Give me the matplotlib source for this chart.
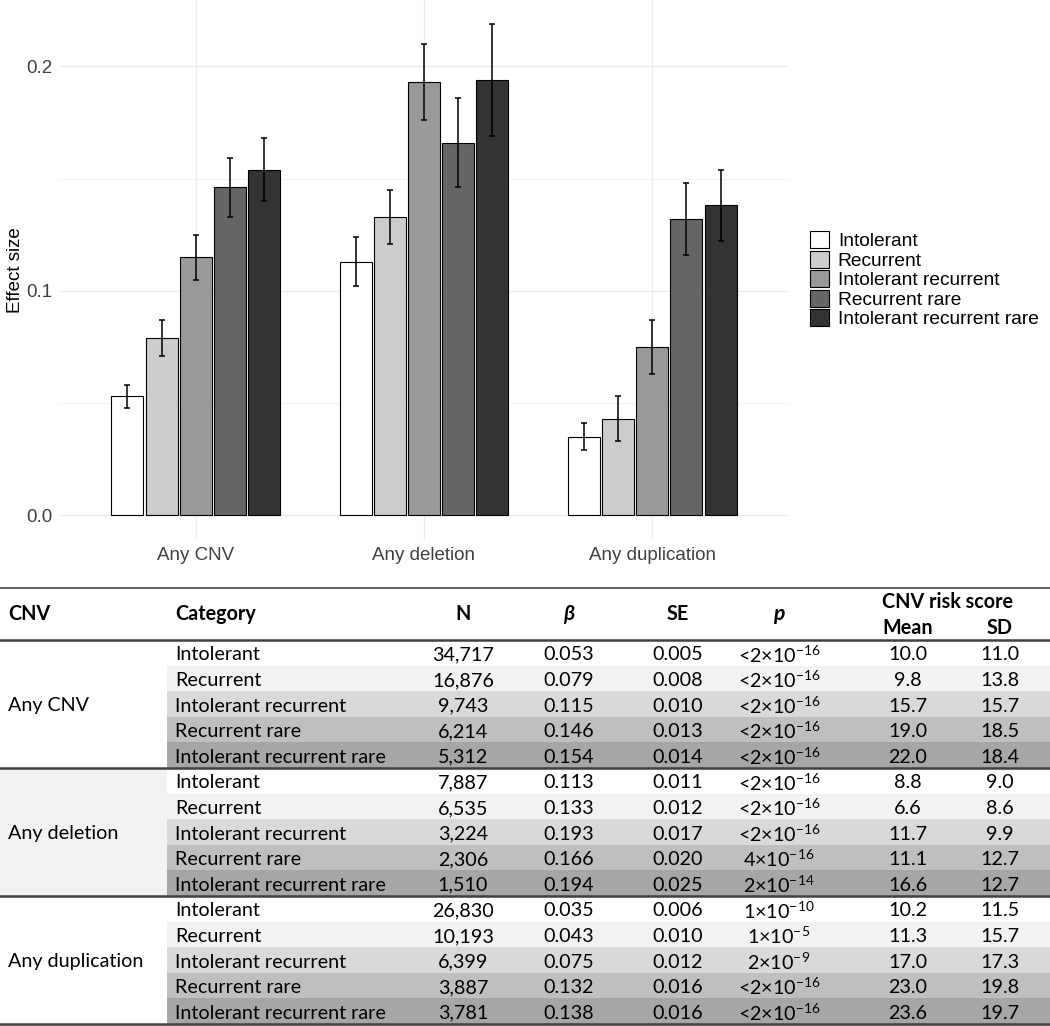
import numpy as np
import matplotlib
matplotlib.use("Agg")
import matplotlib.pyplot as plt
from matplotlib.patches import Patch, Rectangle

# Data
cnv_types = ["Any CNV", "Any deletion", "Any duplication"]
categories = ["Intolerant", "Recurrent", "Intolerant recurrent",
              "Recurrent rare", "Intolerant recurrent rare"]
fills = ["#ffffff", "#cccccc", "#999999", "#666666", "#333333"]

n_cnv = [34717, 16876, 9743, 6214, 5312,
         7887, 6535, 3224, 2306, 1510,
         26830, 10193, 6399, 3887, 3781]
beta = [0.053, 0.079, 0.115, 0.146, 0.154,
        0.113, 0.133, 0.193, 0.166, 0.194,
        0.035, 0.043, 0.075, 0.132, 0.138]
se = [0.005, 0.008, 0.010, 0.013, 0.014,
      0.011, 0.012, 0.017, 0.020, 0.025,
      0.006, 0.010, 0.012, 0.016, 0.016]
pvals = [r"<2×10$^{\mathrm{-16}}$"] * 5 + \
        [r"<2×10$^{\mathrm{-16}}$"] * 3 + [r"4×10$^{\mathrm{-16}}$", r"2×10$^{\mathrm{-14}}$"] + \
        [r"1×10$^{\mathrm{-10}}$", r"1×10$^{\mathrm{-5}}$", r"2×10$^{\mathrm{-9}}$",
         r"<2×10$^{\mathrm{-16}}$", r"<2×10$^{\mathrm{-16}}$"]
risk_mean = [10.0, 9.8, 15.7, 19.0, 22.0,
             8.8, 6.6, 11.7, 11.1, 16.6,
             10.2, 11.3, 17.0, 23.0, 23.6]
risk_sd = [11.0, 13.8, 15.7, 18.5, 18.4,
           9.0, 8.6, 9.9, 12.7, 12.7,
           11.5, 15.7, 17.3, 19.8, 19.7]

plt.rcParams["mathtext.fontset"] = "custom"
plt.rcParams["mathtext.rm"] = "Lato"
plt.rcParams["mathtext.it"] = "Lato:italic"

W, H = 1050, 1026
fig = plt.figure(figsize=(W / 100, H / 100), dpi=100)

# ---- bar chart ----
ax = fig.add_axes([59 / W, 1 - 540 / H, (789 - 59) / W, 540 / H])
beta_arr = np.array(beta).reshape(3, 5)
se_arr = np.array(se).reshape(3, 5)
step, width = 0.15, 0.14
for j, cat in enumerate(categories):
    xs = np.arange(1, 4) + (j - 2) * step
    ax.bar(xs, beta_arr[:, j], width=width, color=fills[j], edgecolor="black",
           linewidth=0.8, zorder=2, label=cat)
    ax.errorbar(xs, beta_arr[:, j], yerr=se_arr[:, j], fmt="none", ecolor="black",
                elinewidth=1.1, capsize=2.5, capthick=1.1, zorder=3)

ax.set_xlim(0.4, 3.6)
ax.set_ylim(-0.011, 0.2295)
ax.set_xticks([1, 2, 3])
ax.set_xticklabels(cnv_types)
ax.set_yticks([0, 0.1, 0.2])
ax.set_yticklabels(["0.0", "0.1", "0.2"])
ax.set_yticks([0.05, 0.15], minor=True)
ax.grid(True, which="major", color="#ebebeb", linewidth=0.9, zorder=0)
ax.grid(True, which="minor", axis="y", color="#f0f0f0", linewidth=0.6, zorder=0)
ax.set_axisbelow(True)
for s in ax.spines.values():
    s.set_visible(False)
ax.tick_params(axis="both", which="both", length=0, labelsize=13.5,
               labelcolor="#404040", pad=5)
for lab in ax.get_xticklabels() + ax.get_yticklabels():
    lab.set_family("Liberation Sans")
ax.set_ylabel("Effect size", fontsize=13.5, family="Liberation Sans")
ax.yaxis.set_label_coords((24 - 59) / 730, 0.5)

handles = [Patch(facecolor=fills[j], edgecolor="black", linewidth=0.8) for j in range(5)]
leg = fig.legend(handles, categories, loc="upper left",
                 bbox_to_anchor=(810 / W, 1 - 231 / H), frameon=False,
                 prop={"family": "Liberation Sans", "size": 13.8},
                 handlelength=1.0, handleheight=1.0, handletextpad=0.45,
                 labelspacing=0.02, borderpad=0, borderaxespad=0)

# ---- table ----
tx = fig.add_axes([0, 0, 1, 1])
tx.set_xlim(0, W)
tx.set_ylim(H, 0)
tx.axis("off")
tx.patch.set_visible(False)

row_fills = ["#ffffff", "#f2f2f2", "#d9d9d9", "#bfbfbf", "#a6a6a6"]
row_h = 25.6
top0 = 640
fs = 14.2
tfam = ["Lato", "DejaVu Sans"]

# shading
for g in range(3):
    for r in range(5):
        y0 = top0 + g * 128 + r * row_h
        if r > 0:
            tx.add_patch(Rectangle((167, y0), W - 167, row_h, facecolor=row_fills[r],
                                   edgecolor="none", zorder=1))
tx.add_patch(Rectangle((0, top0 + 128), 167, 128, facecolor="#f2f2f2",
                       edgecolor="none", zorder=1))

# rules
tx.plot([0, W], [588, 588], color="#555555", lw=1.3, zorder=3)
for yy in [640, 768, 896, 1024]:
    tx.plot([0, W], [yy, yy], color="#404040", lw=1.8, zorder=3)

# header
hy = 614
tx.text(8, hy, "CNV", ha="left", va="center", fontsize=fs, fontweight="bold", family=tfam)
tx.text(175, hy, "Category", ha="left", va="center", fontsize=fs, fontweight="bold", family=tfam)
tx.text(463, hy, "N", ha="center", va="center", fontsize=fs, fontweight="bold", family=tfam)
tx.text(569, hy, "β", ha="center", va="center", fontsize=fs + 1, fontweight="bold",
        style="italic", family=tfam)
tx.text(678, hy, "SE", ha="center", va="center", fontsize=fs, fontweight="bold", family=tfam)
tx.text(779, hy, "p", ha="center", va="center", fontsize=fs + 1, fontweight="bold",
        style="italic", family=tfam)
tx.text(947, 602, "CNV risk score", ha="center", va="center", fontsize=fs,
        fontweight="bold", family=tfam)
tx.text(908, 628, "Mean", ha="center", va="center", fontsize=fs, fontweight="bold", family=tfam)
tx.text(1000, 628, "SD", ha="center", va="center", fontsize=fs, fontweight="bold", family=tfam)

# body
for g, name in enumerate(cnv_types):
    tx.text(8, top0 + g * 128 + 64 + 1, name, ha="left", va="center", fontsize=fs, family=tfam)
    for r, cat in enumerate(categories):
        i = g * 5 + r
        yc = top0 + g * 128 + r * row_h + row_h / 2 + 2
        tx.text(175, yc, cat, ha="left", va="center", fontsize=fs, family=tfam, zorder=4)
        tx.text(463, yc, f"{n_cnv[i]:,}", ha="center", va="center", fontsize=fs, family=tfam, zorder=4)
        tx.text(569, yc, f"{beta[i]:.3f}", ha="center", va="center", fontsize=fs, family=tfam, zorder=4)
        tx.text(678, yc, f"{se[i]:.3f}", ha="center", va="center", fontsize=fs, family=tfam, zorder=4)
        tx.text(779, yc, pvals[i], ha="center", va="center", fontsize=fs, family=tfam, zorder=4)
        tx.text(908, yc, f"{risk_mean[i]:.1f}", ha="center", va="center", fontsize=fs, family=tfam, zorder=4)
        tx.text(1000, yc, f"{risk_sd[i]:.1f}", ha="center", va="center", fontsize=fs, family=tfam, zorder=4)

fig.savefig("out.png", dpi=100)
